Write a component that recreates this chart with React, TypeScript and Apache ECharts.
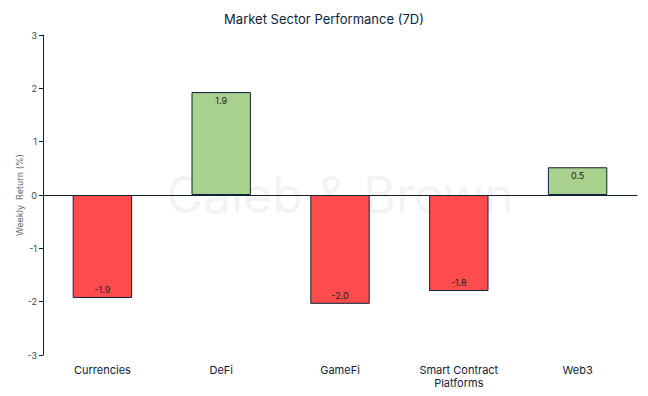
import React, { useEffect, useRef } from "react";
import * as echarts from "echarts";

const categories = ["Currencies", "DeFi", "GameFi", "Smart Contract\nPlatforms", "Web3"];
const values = [-1.93, 1.93, -2.04, -1.8, 0.52];
const labels = ["-1.9", "1.9", "-2.0", "-1.8", "0.5"];
const yTicks = { min: -3, max: 3, interval: 1 };

const RED = "#FF4C4C";
const GREEN = "#A9D18E";
const DARK = "#0E2236";

export default function App() {
  const ref = useRef<HTMLDivElement>(null);
  useEffect(() => {
    document.body.style.margin = "0";
    const chart = echarts.init(ref.current!, null, { renderer: "svg" });
    chart.setOption({
      animation: false,
      textStyle: { fontFamily: "Inter" },
      title: {
        text: "Market Sector Performance (7D)",
        left: "center",
        top: 7,
        textStyle: { fontSize: 13, fontWeight: "normal", color: DARK, fontFamily: "Inter" },
      },
      graphic: [
        {
          type: "text",
          x: 340,
          y: 195,
          z: -10,
          silent: true,
          style: {
            text: "Caleb & Brown",
            fontSize: 50,
            fill: "#F3F3F3",
            fontFamily: "Inter",
            align: "center",
            verticalAlign: "middle",
          },
        },
      ],
      grid: { left: 43, right: 11, top: 35, bottom: 41 },
      xAxis: {
        type: "category",
        data: categories,
        axisLine: { onZero: true, lineStyle: { color: DARK, width: 1 } },
        axisTick: { show: false },
        axisLabel: { color: DARK, fontSize: 11, margin: 8, lineHeight: 13, fontFamily: "Inter", interval: 0 },
        position: "bottom",
      },
      yAxis: {
        type: "value",
        min: yTicks.min,
        max: yTicks.max,
        interval: yTicks.interval,
        name: "Weekly  Return (%)",
        nameLocation: "middle",
        nameGap: 19,
        nameMoveOverlap: false,
        nameTextStyle: { color: "#666", fontSize: 9, fontFamily: "Inter" },
        axisLine: { show: true, lineStyle: { color: DARK } },
        axisTick: { show: true, length: 4, lineStyle: { color: DARK } },
        axisLabel: { color: "#444", fontSize: 9, margin: 6 },
        splitLine: { show: false },
      },
      series: [
        {
          type: "bar",
          barWidth: "50%",
          data: values.map((v, i) => ({
            value: v,
            itemStyle: { color: v >= 0 ? GREEN : RED, borderColor: DARK, borderWidth: 1 },
            label: {
              show: true,
              position: v >= 0 ? "insideTop" : "insideBottom",
              distance: 4,
              formatter: () => labels[i],
              fontSize: 9,
              color: "#222",
            },
          })),
        },
      ],
    });
    return () => chart.dispose();
  }, []);
  return <div ref={ref} style={{ width: 648, height: 396 }} />;
}
